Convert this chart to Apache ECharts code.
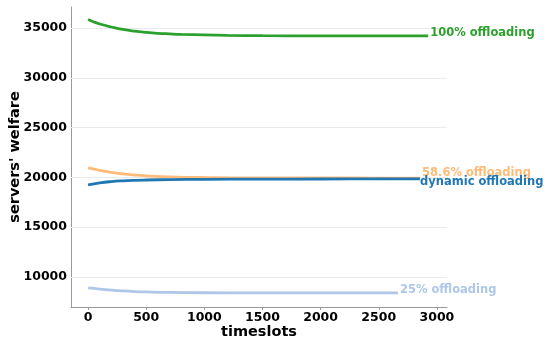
<!DOCTYPE html>
<html><head><meta charset="utf-8">
<script src="https://cdn.jsdelivr.net/npm/echarts@6/dist/echarts.min.js"></script>
<style>html,body{margin:0;padding:0;background:#fff}#c{width:550px;height:343px}</style>
</head><body><div id="c"></div>
<script>
const xTicks = [0, 500, 1000, 1500, 2000, 2500, 3000];
const yTicks = [10000, 15000, 20000, 25000, 30000, 35000];

const tFull = [0, 50, 100, 200, 300, 400, 500, 600, 700, 800, 1000, 1200, 1500, 2000, 2500, 2925];
const full = [35850, 35600, 35400, 35100, 34850, 34680, 34560, 34470, 34410, 34360, 34300, 34260, 34230, 34210, 34200, 34200];

const tPart = [0, 100, 200, 300, 400, 500, 700, 1000, 1500, 2000, 2500, 2855];
const part = [20950, 20700, 20500, 20350, 20240, 20160, 20060, 19990, 19950, 19940, 19935, 19930];

const tDyn = [0, 100, 200, 300, 400, 500, 700, 1000, 1500, 2000, 2500, 2855];
const dyn = [19250, 19450, 19580, 19660, 19710, 19740, 19780, 19810, 19830, 19840, 19845, 19850];

const tQuarter = [0, 100, 200, 300, 400, 500, 700, 1000, 1500, 2000, 2665];
const quarter = [8900, 8780, 8680, 8600, 8540, 8500, 8450, 8420, 8400, 8400, 8400];

const seriesDefs = [
  {name: '100% offloading', t: tFull, v: full, color: '#2ca02c', off: [0, -3]},
  {name: '58.6% offloading', t: tPart, v: part, color: '#ffbb78', off: [0, -5]},
  {name: 'dynamic offloading', t: tDyn, v: dyn, color: '#1f77b4', off: [-2, 3]},
  {name: '25% offloading', t: tQuarter, v: quarter, color: '#aec7e8', off: [0, -3]}
];

const chart = echarts.init(document.getElementById('c'));
const font = 'DejaVu Sans';
chart.setOption({
  animation: false,
  grid: {left: 71, right: 103, top: 7, bottom: 36, containLabel: false, outerBoundsMode: 'none'},
  xAxis: {
    type: 'value', min: -147, max: 3087,
    name: 'timeslots', nameLocation: 'middle', nameGap: 18, nameMoveOverlap: false,
    nameTextStyle: {fontFamily: font, fontWeight: 'bold', fontSize: 14.5, color: '#000'},
    axisLine: {show: true, onZero: false, lineStyle: {color: '#999', width: 1}},
    axisTick: {show: true, customValues: xTicks, length: 3, lineStyle: {color: '#999'}},
    axisLabel: {customValues: xTicks, formatter: v => String(v), fontFamily: font, fontWeight: 'bold', fontSize: 12.5, color: '#000', margin: 4},
    splitLine: {show: false}
  },
  yAxis: {
    type: 'value', min: 6988, max: 37108,
    name: "servers' welfare", nameLocation: 'middle', nameGap: 48, nameMoveOverlap: false,
    nameTextStyle: {fontFamily: font, fontWeight: 'bold', fontSize: 14.5, color: '#000'},
    axisLine: {show: true, onZero: false, lineStyle: {color: '#999', width: 1}},
    axisTick: {show: false, customValues: yTicks},
    axisLabel: {customValues: yTicks, formatter: v => String(v), fontFamily: font, fontWeight: 'bold', fontSize: 12.5, color: '#000', margin: 4},
    splitLine: {show: false}
  },
  series: seriesDefs.map((s, i) => ({
    type: 'line', name: s.name, smooth: true, showSymbol: false, symbol: 'none',
    data: s.t.map((t, j) => [t, s.v[j]]),
    lineStyle: {color: s.color, width: 2.8},
    itemStyle: {color: s.color},
    z: 3,
    endLabel: {show: true, formatter: s.name, distance: 2, offset: s.off,
      fontFamily: font, fontWeight: 'bold', fontSize: 11.5, color: s.color},
    markLine: i === 0 ? {
      silent: true, symbol: 'none', label: {show: false},
      lineStyle: {color: '#ebebeb', width: 1, type: 'solid'},
      z: 1,
      data: yTicks.map(y => ({yAxis: y}))
    } : undefined
  }))
});
</script></body></html>
